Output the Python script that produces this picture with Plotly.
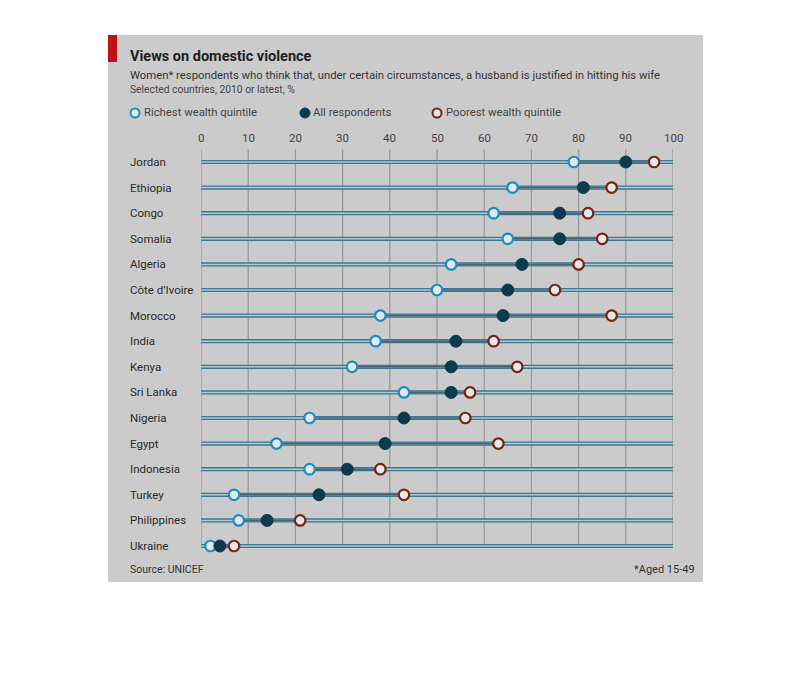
import plotly.graph_objects as go

countries = ["Jordan", "Ethiopia", "Congo", "Somalia", "Algeria", "Côte d’Ivoire", "Morocco",
             "India", "Kenya", "Sri Lanka", "Nigeria", "Egypt", "Indonesia", "Turkey",
             "Philippines", "Ukraine"]
richest = [79, 66, 62, 65, 53, 50, 38, 37, 32, 43, 23, 16, 23, 7, 8, 2]
all_resp = [90, 81, 76, 76, 68, 65, 64, 54, 53, 53, 43, 39, 31, 25, 14, 4]
poorest = [96, 87, 82, 85, 80, 75, 87, 62, 67, 57, 56, 63, 38, 43, 21, 7]
x_ticks = [0, 10, 20, 30, 40, 50, 60, 70, 80, 90, 100]

W, H = 810, 676
OFF = 8  # page body margin
FONT = "Roboto, Lato, sans-serif"

def px(x):
    return (x - OFF) / W

def py(y):
    return 1 - (y - OFF) / H

rows = list(range(len(countries)))

fig = go.Figure()

# base lines (full 0-100 track)
bx, by = [], []
for i in rows:
    bx += [0, 100, None]
    by += [i, i, None]
fig.add_trace(go.Scatter(x=bx, y=by, mode="lines", line=dict(color="#3a7896", width=4.2),
                         hoverinfo="skip", showlegend=False))
fig.add_trace(go.Scatter(x=bx, y=by, mode="lines", line=dict(color="#b4c8d1", width=1.5),
                         hoverinfo="skip", showlegend=False))
# range between richest and poorest
rx, ry = [], []
for i in rows:
    rx += [richest[i], poorest[i], None]
    ry += [i, i, None]
fig.add_trace(go.Scatter(x=rx, y=ry, mode="lines", line=dict(color="#4d5f69", width=1.5),
                         hoverinfo="skip", showlegend=False))

fig.add_trace(go.Scatter(x=richest, y=rows, mode="markers", cliponaxis=False,
                         marker=dict(size=10.5, color="#e4e8ea", line=dict(color="#1b8dc0", width=2.2)),
                         name="Richest wealth quintile", showlegend=False))
fig.add_trace(go.Scatter(x=all_resp, y=rows, mode="markers", cliponaxis=False,
                         marker=dict(size=12, color="#0b3b4d", line=dict(color="#0b3b4d", width=1)),
                         name="All respondents", showlegend=False))
fig.add_trace(go.Scatter(x=poorest, y=rows, mode="markers", cliponaxis=False,
                         marker=dict(size=10.5, color="#e4e8ea", line=dict(color="#7b2312", width=2.2)),
                         name="Poorest wealth quintile", showlegend=False))

shapes = []
# panel background
shapes.append(dict(type="rect", xref="paper", yref="paper", x0=px(108), x1=px(703),
                   y0=py(582), y1=py(35), fillcolor="#cbcbcb", line=dict(width=0), layer="below"))
# red tab
shapes.append(dict(type="rect", xref="paper", yref="paper", x0=px(108), x1=px(117),
                   y0=py(62), y1=py(35), fillcolor="#c0101a", line=dict(width=0), layer="below"))
# vertical gridlines
for t in x_ticks:
    shapes.append(dict(type="line", xref="x", yref="y", x0=t, x1=t, y0=-0.5, y1=len(countries) - 1,
                       line=dict(color="#9a9a9a", width=1.3), layer="below"))

# legend circles
def circ(cx, cy, r, fill, edge, w):
    return dict(type="circle", xref="paper", yref="paper", x0=px(cx - r), x1=px(cx + r),
                y0=py(cy + r), y1=py(cy - r), fillcolor=fill, line=dict(color=edge, width=w))

shapes.append(circ(135, 113, 4.5, "#e4e8ea", "#1b8dc0", 2))
shapes.append(circ(305, 113, 5, "#0b3b4d", "#0b3b4d", 1))
shapes.append(circ(437, 113, 4.5, "#e4e8ea", "#7b2312", 2))

ann = []
ann.append(dict(text="<b>Views on domestic violence</b>", x=px(128), y=py(57), xref="paper", yref="paper",
                xanchor="left", yanchor="middle", showarrow=False, font=dict(size=14.5, color="#1e1e1e", family=FONT)))
ann.append(dict(text="Women* respondents who think that, under certain circumstances, a husband is justified in hitting his wife",
                x=px(128), y=py(75), xref="paper", yref="paper", xanchor="left", yanchor="middle",
                showarrow=False, font=dict(size=11.3, color="#333333", family=FONT)))
ann.append(dict(text="Selected countries, 2010 or latest, %", x=px(128), y=py(90), xref="paper", yref="paper",
                xanchor="left", yanchor="middle", showarrow=False, font=dict(size=10.3, color="#444444", family=FONT)))
for txt, xx in [("Richest wealth quintile", 142), ("All respondents", 311), ("Poorest wealth quintile", 444)]:
    ann.append(dict(text=txt, x=px(xx), y=py(113), xref="paper", yref="paper", xanchor="left",
                    yanchor="middle", showarrow=False, font=dict(size=11.3, color="#444444", family=FONT)))
for t in x_ticks:
    ann.append(dict(text=str(t), x=t, y=py(138), xref="x", yref="paper", xanchor="center",
                    yanchor="middle", showarrow=False, font=dict(size=11.5, color="#444444", family=FONT)))
for i, c in enumerate(countries):
    ann.append(dict(text=c, x=px(128), y=i, xref="paper", yref="y", xanchor="left", yanchor="middle",
                    showarrow=False, font=dict(size=11.5, color="#2a2a2a", family=FONT)))
ann.append(dict(text="Source: UNICEF", x=px(128), y=py(569), xref="paper", yref="paper", xanchor="left",
                yanchor="middle", showarrow=False, font=dict(size=10.5, color="#333333", family=FONT)))
ann.append(dict(text="*Aged 15-49", x=px(697), y=py(569), xref="paper", yref="paper", xanchor="right",
                yanchor="middle", showarrow=False, font=dict(size=11, color="#333333", family=FONT)))

fig.update_layout(
    width=W, height=H, margin=dict(l=0, r=0, t=0, b=0),
    paper_bgcolor="white", plot_bgcolor="rgba(0,0,0,0)",
    xaxis=dict(domain=[px(201), px(673)], range=[0, 100], showgrid=False, zeroline=False,
               showticklabels=False, fixedrange=True),
    yaxis=dict(domain=[py(571.6), py(136.4)], range=[16, -1], showgrid=False, zeroline=False,
               showticklabels=False, fixedrange=True),
    shapes=shapes, annotations=ann, showlegend=False,
)

fig.write_html("out.html")
